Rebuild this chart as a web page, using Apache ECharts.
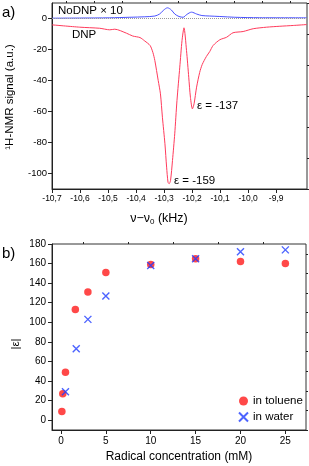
<!DOCTYPE html>
<html><head><meta charset="utf-8">
<script src="https://cdn.jsdelivr.net/npm/echarts@6/dist/echarts.min.js"></script>
<style>html,body{margin:0;padding:0;background:#fff}#c{width:309px;height:466px}</style>
</head><body><div id="c"></div>
<script>
// ---- Panel a) 1H-NMR spectra ----
const dnpFreq = [-10.700,-10.601,-10.530,-10.494,-10.476,-10.434,-10.412,-10.386,-10.369,-10.350,-10.340,-10.333,-10.321,-10.313,-10.306,-10.297,-10.291,-10.286,-10.282,-10.277,-10.270,-10.262,-10.254,-10.244,-10.236,-10.229,-10.220,-10.212,-10.206,-10.199,-10.193,-10.184,-10.173,-10.164,-10.149,-10.137,-10.125,-10.101,-10.077,-10.054,-10.018,-9.982,-9.934,-9.887,-9.839,-9.791];
const dnpSignal = [-4.1,-5.6,-6.3,-7.3,-6.9,-9.5,-11.3,-12.3,-14.5,-17.4,-21.9,-27.1,-40,-48.6,-63.7,-80.8,-95.9,-105.6,-106.6,-104.5,-91.6,-74.4,-52.9,-31.4,-14.2,-6.0,-20.6,-37.9,-50.8,-58.3,-55.0,-44.3,-34.8,-29.7,-24.5,-21.3,-17.4,-13.7,-12.1,-9.2,-8.4,-6.6,-5.6,-5.0,-4.5,-3.9];
const noDnpFreq = [-10.700,-10.601,-10.494,-10.422,-10.369,-10.333,-10.316,-10.301,-10.288,-10.274,-10.262,-10.247,-10.232,-10.219,-10.202,-10.184,-10.165,-10.137,-10.101,-10.048,-9.959,-9.791];
const noDnpSignal = [0.2,0.3,0.45,0.8,1.1,1.6,2.9,5.5,6.9,5.5,2.9,1.3,0.8,2.6,4.1,2.9,1.9,1.6,1.3,0.8,0.5,0.45];
const topXTicks = [-10.7,-10.6,-10.5,-10.4,-10.3,-10.2,-10.1,-10.0,-9.9];
const topXMinor = [-10.65,-10.55,-10.45,-10.35,-10.25,-10.15,-10.05,-9.95,-9.85];
const topYTicks = [-100,-80,-60,-40,-20,0];
const topYMinor = [-110,-90,-70,-50,-30,-10,10];

// ---- Panel b) enhancement vs radical concentration ----
const concToluene = [0.1,0.2,0.5,1.6,3,5,10,15,20,25];
const epsToluene = [9,27,49,113,131,151,159,165,162,160];
const concWater = [0.5,1.7,3,5,10,15,20,25];
const epsWater = [29,73,103,127,158,165,172,174];
const botXTicks = [0,5,10,15,20,25];
const botXMinor = [2.5,7.5,12.5,17.5,22.5];
const botYTicks = [0,20,40,60,80,100,120,140,160,180];
const botYMinor = [-10,10,30,50,70,90,110,130,150,170];

const FONT = 'Liberation Sans';
const zip = (a,b)=>a.map((v,i)=>[v,b[i]]);
const fmtComma = v => (Math.round(v*10)/10).toFixed(1).replace('.', ',');

function mainAxis(gridIndex, min, max, ticks, fontSize, margin, formatter){
  return {type:'value', gridIndex, min, max, scale:true,
    axisLine:{show:true, onZero:false, lineStyle:{color:'#222', width:1}},
    axisTick:{show:true, inside:false, length:4, customValues:ticks, lineStyle:{color:'#222'}},
    axisLabel:{show:true, customValues:ticks, margin, fontSize, fontFamily:FONT, color:'#000', formatter},
    splitLine:{show:false}};
}
function minorAxis(gridIndex, min, max, ticks){
  return {type:'value', gridIndex, min, max, scale:true,
    axisLine:{show:false, onZero:false},
    axisTick:{show:true, inside:false, length:2, customValues:ticks, lineStyle:{color:'#222'}},
    axisLabel:{show:false}, splitLine:{show:false}};
}

const chart = echarts.init(document.getElementById('c'), null, {renderer:'canvas'});
chart.setOption({
  animation:false,
  backgroundColor:'#fff',
  grid:[
    {left:52, top:3, width:255, height:186, show:true, borderColor:'#333', borderWidth:1, backgroundColor:'transparent'},
    {left:52, top:244, width:254, height:186, show:true, borderColor:'#333', borderWidth:1, backgroundColor:'transparent'}
  ],
  xAxis:[
    mainAxis(0, -10.7, -9.79, topXTicks, 8.5, 5, fmtComma),
    minorAxis(0, -10.7, -9.79, topXMinor),
    mainAxis(1, -1, 27.3, botXTicks, 10, 6, v=>String(v)),
    minorAxis(1, -1, 27.3, botXMinor)
  ],
  yAxis:[
    mainAxis(0, -110, 10, topYTicks, 9.5, 5, v=>String(v)),
    minorAxis(0, -110, 10, topYMinor),
    mainAxis(1, -10, 180, botYTicks, 10, 6, v=>String(v)),
    minorAxis(1, -10, 180, botYMinor)
  ],
  legend:{
    orient:'vertical', left:233, top:390, itemGap:4, itemWidth:9, itemHeight:9,
    textStyle:{fontFamily:FONT, fontSize:11.5, color:'#000'},
    data:['in toluene','in water']
  },
  series:[
    {name:'NoDNP x 10', type:'line', xAxisIndex:0, yAxisIndex:0, data:zip(noDnpFreq,noDnpSignal),
     showSymbol:false, smooth:0.3, lineStyle:{color:'#4a52ff', width:1},
     markLine:{silent:true, symbol:'none', label:{show:false},
       lineStyle:{type:'dotted', color:'#999', width:1}, data:[{yAxis:0}]}},
    {name:'DNP', type:'line', xAxisIndex:0, yAxisIndex:0, data:zip(dnpFreq,dnpSignal),
     showSymbol:false, smooth:0.25, lineStyle:{color:'#ff3b5c', width:1}},
    {name:'in toluene', type:'scatter', xAxisIndex:2, yAxisIndex:2, data:zip(concToluene,epsToluene),
     symbol:'circle', symbolSize:7.5, itemStyle:{color:'#ff1a1a'}},
    {name:'in water', type:'scatter', xAxisIndex:2, yAxisIndex:2, data:zip(concWater,epsWater),
     symbol:'path://M0,0L10,10M10,0L0,10', symbolSize:7,
     itemStyle:{color:'rgba(0,0,0,0)', borderColor:'#1f3cff', borderWidth:1.4}}
  ],
  graphic:[
    {type:'text', left:2, top:5, style:{text:'a)', fontFamily:FONT, fontSize:15, fill:'#000'}},
    {type:'text', left:2, top:246, style:{text:'b)', fontFamily:FONT, fontSize:15, fill:'#000'}},
    {type:'text', left:58, top:5, style:{text:'NoDNP \u00d7 10', fontFamily:FONT, fontSize:11.5, fill:'#000'}},
    {type:'text', left:72, top:29, style:{text:'DNP', fontFamily:FONT, fontSize:11.5, fill:'#000'}},
    {type:'text', left:197, top:100, style:{text:'\u03b5 = -137', fontFamily:FONT, fontSize:11.5, fill:'#000'}},
    {type:'text', left:174, top:175, style:{text:'\u03b5 = -159', fontFamily:FONT, fontSize:11.5, fill:'#000'}},
    {type:'text', x:10, y:97, rotation:Math.PI/2,
     style:{text:'\u00b9H-NMR signal (a.u.)', fontFamily:FONT, fontSize:11.5, fill:'#000', align:'center', verticalAlign:'middle'}},
    {type:'text', x:159, y:219,
     style:{text:'{a|\u03bd\u2212\u03bd}{s|0}{a| (kHz)}', align:'center', verticalAlign:'middle',
       rich:{a:{fontFamily:FONT, fontSize:12.5, fill:'#000'}, s:{fontFamily:FONT, fontSize:8, fill:'#000', padding:[6,0,0,0]}}}},
    {type:'text', x:16, y:344, rotation:Math.PI/2,
     style:{text:'|\u03b5|', fontFamily:FONT, fontSize:11.5, fill:'#000', align:'center', verticalAlign:'middle'}},
    {type:'text', x:179, y:457,
     style:{text:'Radical concentration (mM)', fontFamily:FONT, fontSize:12, fill:'#000', align:'center', verticalAlign:'middle'}}
  ]
});
</script></body></html>
